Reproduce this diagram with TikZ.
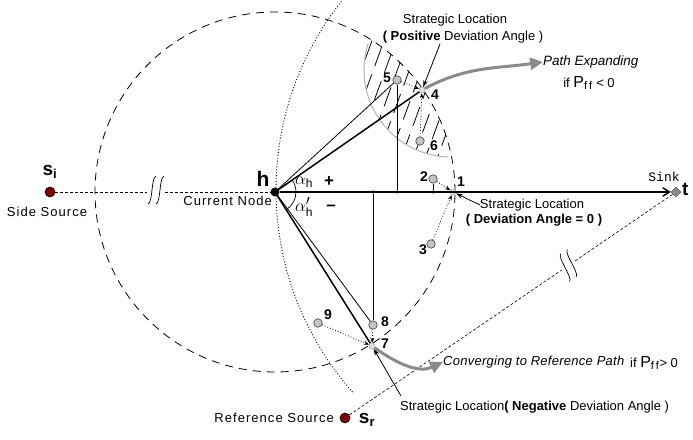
\documentclass[tikz,border=0pt]{standalone}
\usepackage{fontspec}
\setmainfont{Liberation Sans}
\setmonofont{Liberation Mono}
\newfontfamily\spaced[LetterSpace=8]{Liberation Sans}
\newfontfamily\spacedit[LetterSpace=2]{Liberation Sans Italic}
\usetikzlibrary{arrows.meta,positioning,calc,shapes.geometric}
\definecolor{srcred}{HTML}{800000}
\definecolor{ptgray}{HTML}{C4C4C4}
\definecolor{swinggray}{HTML}{8A8A8A}
\definecolor{hatchgray}{HTML}{B4B4B4}
\tikzset{
  pt/.style     ={circle,draw=black!75,fill=ptgray,line width=0.6pt,inner sep=0pt,
                  minimum size=8.5pt},
  strat/.style  ={circle,draw=black!35,fill=black!12,line width=0.5pt,inner sep=0pt,
                  minimum size=6pt},
  src/.style    ={circle,draw=black,fill=srcred,line width=0.6pt,inner sep=0pt,
                  minimum size=10pt},
  foot/.style   ={circle,fill=black,inner sep=0pt,minimum size=3.5pt},
  num/.style    ={font=\bfseries\fontsize{14}{14}\selectfont,inner sep=0pt},
  lbl/.style    ={font=\fontsize{13}{15}\selectfont,inner sep=0pt},
  lblsp/.style  ={font=\spaced\fontsize{13}{15}\selectfont,inner sep=0pt},
  lblit/.style  ={font=\itshape\fontsize{13.5}{15}\selectfont,inner sep=0pt},
  big/.style    ={font=\bfseries\fontsize{19}{19}\selectfont,inner sep=0pt},
  axis/.style   ={line width=1.4pt},
  ray/.style    ={line width=1.5pt},
  rayl/.style   ={line width=0.8pt},
  probe/.style  ={dotted,line width=0.8pt,-{Stealth[length=1.8mm,width=1.4mm]}},
  pointer/.style={line width=0.8pt,-{Stealth[length=2.4mm,width=1.6mm]}},
  swing/.style  ={line width=3pt,draw=swinggray,-{Triangle[length=4.5mm,width=4.2mm]}},
  far/.style    ={dash pattern=on 3pt off 2pt,line width=0.6pt},
  reach/.style  ={dash pattern=on 8pt off 6pt,line width=0.8pt},
  hatchline/.style={line width=0.8pt,dash pattern=on 20pt off 9pt},
  cutmark/.pic  ={\draw[line width=0.7pt] (-8,-14) .. controls (-3,-12) and (-5,12) .. (0,14);
                  \draw[line width=0.7pt] (0,-14) .. controls (5,-12) and (3,12) .. (8,14);}
}
\newcommand{\pff}{{\fontsize{16}{16}\selectfont$\mathrm{P}_{\mathrm{f\,f}}$}}

\begin{document}
\begin{tikzpicture}[x=1pt,y=1pt]
  \useasboundingbox (0,0) rectangle (693,439);
  \coordinate (hc) at (275,247);
  \coordinate (ctr) at (581,249);
  \coordinate (shade) at (451,369);

  % reachable range, shadow region
  \begin{scope}
    \clip (shade) circle (87);
    \clip (hc) circle (180);
    \foreach \i in {0,...,12}
      \draw[hatchline,dash phase=\i*7pt] ($(306,250)+(\i*12,0)$) -- ++(70:200);
  \end{scope}
  \draw[hatchgray,line width=1pt] (shade) ++(162:87) arc (162:268:87);
  \draw[reach] (hc) circle (180);
  \draw[dotted,line width=0.9pt] (ctr) ++(141.8:305) arc (141.8:221.6:305);

  % nodes
  \node[circle,fill=black,inner sep=0pt,minimum size=9pt] (h) at (hc) {};
  \node[src] (si) at (50,247) {};
  \node[src] (sr) at (345,21) {};
  \node[diamond,draw=black!75,fill=black!45,inner sep=0pt,minimum size=10pt] (sink) at (676,247) {};
  \node[strat] (p1) at (453,247) {};
  \node[pt]    (p2) at (433,260) {};
  \node[pt]    (p3) at (431,195) {};
  \node[strat] (p4) at (422,349) {};
  \node[pt]    (p5) at (397,359) {};
  \node[pt]    (p6) at (420,298) {};
  \node[strat] (p7) at (372,93) {};
  \node[pt]    (p8) at (373,114) {};
  \node[pt]    (p9) at (318,116) {};
  \node[foot]  (f2) at (433,247) {};
  \node[foot]  (f5) at (397,247) {};
  \node[foot]  (f8) at (373,247) {};

  \node[num] (n1) at (461,257) {1};
  \node[num] (n2) at (424,262) {2};
  \node[num] (n3) at (423,189) {3};
  \node[num] (n4) at (435,344) {4};
  \node[num] (n5) at (387,361) {5};
  \node[num] (n6) at (434,293) {6};
  \node[num] (n7) at (385,95) {7};
  \node[num] (n8) at (385,117) {8};
  \node[num] (n9) at (328,124) {9};

  % sources, sink, current node
  \node[big] (silbl) at (50,267) {s\textsubscript{\fontsize{13}{13}\selectfont i}};
  \node[lblsp] (sitxt) at (47,227) {Side Source};
  \node[big] (srlbl) at (367,19) {s\textsubscript{\fontsize{13}{13}\selectfont r}};
  \node[lblsp,anchor=east] (srtxt) at (334,21) {Reference Source};
  \node[big,font=\bfseries\fontsize{21}{21}\selectfont] (hlbl) at (263,260) {h};
  \node[lblsp,anchor=east] (htxt) at (272,238) {Current Node};
  \node[font=\ttfamily\fontsize{13}{13}\selectfont,inner sep=0pt] (sinktxt) at (664,262) {Sink};
  \node[big,anchor=west] (tlbl) at (682,250) {t};

  % deviation angles
  \draw[line width=0.7pt] (hc) ++(0:21) arc (0:35:21);
  \draw[line width=0.7pt] (hc) ++(0:21) arc (0:-58:21);
  \node[lbl,font=\fontsize{19}{19}\selectfont] (aplus) at (304,257) {$\alpha_{\textrm{\fontsize{12}{12}\selectfont h}}$};
  \node[num,font=\bfseries\fontsize{17}{17}\selectfont] (plus) at (329,257) {+};
  \node[lbl,font=\fontsize{19}{19}\selectfont] (aminus) at (304,232) {$\alpha'_{\textrm{\fontsize{12}{12}\selectfont h}}$};
  \node[num,font=\bfseries\fontsize{17}{17}\selectfont] (minus) at (331,231) {--};

  % texts of strategic locations
  \node[lbl] (loc4) at (455,419) {Strategic Location};
  \node[lbl] (loc4b) at (463,402) {\textbf{(} \textbf{Positive} Deviation Angle )};
  \node[lbl] (loc1) at (532,234) {Strategic Location};
  \node[lbl,font=\bfseries\fontsize{13}{15}\selectfont] (loc1b) at (534,219) {( Deviation Angle = 0 )};
  \node[lbl,anchor=west] (loc7) at (400,32) {Strategic Location\textbf{(} \textbf{Negative} Deviation Angle )};
  \node[lblit,anchor=west] (expand) at (543,377) {Path Expanding};
  \node[lbl] (expandif) at (589,356) {if \pff{} < 0};
  \node[lblit,font=\spacedit\fontsize{13}{15}\selectfont,anchor=west] (conv) at (443,77) {Converging to Reference Path};
  \node[lbl,anchor=west] (convif) at (630,76) {if \pff{}> 0};
  \coordinate (tail4) at (440,395);
  \coordinate (tail1) at (480,234);
  \coordinate (tail7) at (401,43);

  % source lines with breaks
  \coordinate (gapL) at (147,247);
  \coordinate (gapR) at (165,247);
  \draw[far] (si) -- (gapL);
  \draw[far] (gapR) -- (h);
  \pic at (156,249) {cutmark};
  \draw[far] (sr) -- ($(sr)!0.655!(sink)$);
  \draw[far] ($(sr)!0.695!(sink)$) -- (sink);
  \pic[rotate=34] at ($(sr)!0.675!(sink)$) {cutmark};

  % main axis and rays
  \draw[axis,-{Straight Barb[length=2.4mm,width=3mm]}] (h) -- (sink);
  \draw[ray] (h.center) -- (p4);
  \draw[rayl] (h.center) -- (p5);
  \draw[ray] (h.center) -- (p7);
  \draw[rayl] (h.center) -- (p8);
  \draw[rayl] (p5) -- (f5);
  \draw[rayl] (p8) -- (f8);
  \draw[rayl] (p2) -- (f2);

  % moves to the strategic locations
  \draw[probe] (p5) -- (p4);
  \draw[probe] (p6) -- (p4);
  \draw[probe] (p2) -- (p1);
  \draw[probe] (p3) -- (p1);
  \draw[probe] (p8) -- (p7);
  \draw[probe] (p9) -- (p7);
  \draw[pointer] (tail4) -- (p4);
  \draw[pointer] (tail1) -- (p1);
  \draw[pointer] (tail7) -- (p7);

  \draw[swing] (p4) to[out=28,in=188] (expand.west);
  \draw[swing] (p7) to[out=-35,in=205] (conv.west);
\end{tikzpicture}
\end{document}
